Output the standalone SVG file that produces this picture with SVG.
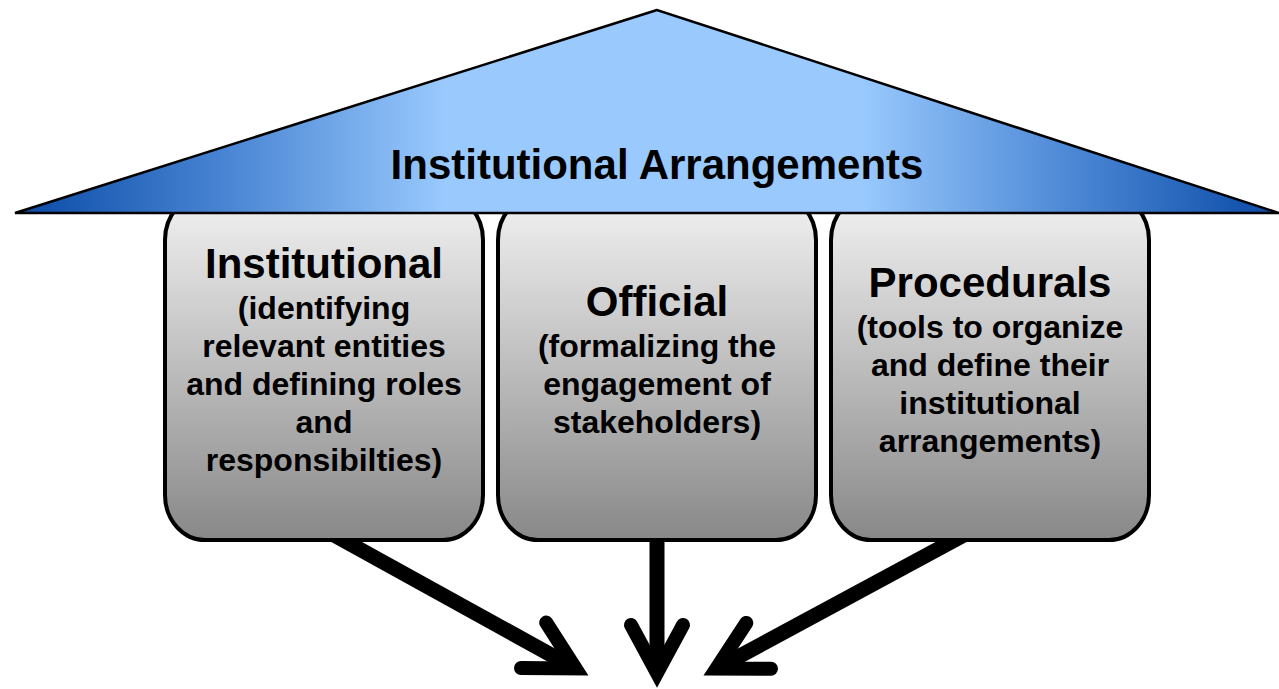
<svg xmlns="http://www.w3.org/2000/svg" width="1279" height="689" viewBox="0 0 1279 689">
<style>
.box{fill:url(#boxGrad);stroke:#000;stroke-width:4}
.t{font-family:"Liberation Sans",Arial,sans-serif;font-weight:bold;fill:#000;text-anchor:middle}
.h{font-size:42px}
.s{font-size:32px}
.arr{fill:none;stroke:#000;stroke-width:15;marker-end:url(#head)}
</style>
<defs>
<linearGradient id="roofGrad" gradientUnits="userSpaceOnUse" x1="15" y1="0" x2="1279" y2="0">
<stop offset="0" stop-color="#0a4aa6"/>
<stop offset="0.17" stop-color="#4a86d4"/>
<stop offset="0.34" stop-color="#99c9fd"/>
<stop offset="0.67" stop-color="#99c9fd"/>
<stop offset="0.84" stop-color="#4a86d4"/>
<stop offset="1" stop-color="#0a4aa6"/>
</linearGradient>
<linearGradient id="boxGrad" x1="0" y1="0" x2="0" y2="1">
<stop offset="0" stop-color="#f2f2f2"/>
<stop offset="1" stop-color="#888888"/>
</linearGradient>
<marker id="head" markerUnits="userSpaceOnUse" orient="auto" overflow="visible" refX="0" refY="0" markerWidth="1" markerHeight="1">
<path d="M-48,-26 L0,0 L-48,26" fill="none" stroke="#000" stroke-width="14" stroke-linecap="round" stroke-linejoin="miter" stroke-miterlimit="6"/>
</marker>
</defs>
<g id="connectors">
<line class="arr" x1="334" y1="535" x2="575.6" y2="668.5"/>
<line class="arr" x1="657" y1="535" x2="657" y2="673"/>
<line class="arr" x1="964" y1="535" x2="716.4" y2="668.6"/>
</g>
<g id="node-institutional">
<rect class="box" x="165" y="195" width="318" height="345" rx="40" ry="45"/>
<text class="t h" x="324" y="278">Institutional</text>
<text class="t s" x="324" y="319">(identifying</text>
<text class="t s" x="324" y="357">relevant entities</text>
<text class="t s" x="324" y="395">and defining roles</text>
<text class="t s" x="324" y="433">and</text>
<text class="t s" x="324" y="471">responsibilties)</text>
</g>
<g id="node-official">
<rect class="box" x="498" y="195" width="318" height="345" rx="40" ry="45"/>
<text class="t h" x="657" y="316">Official</text>
<text class="t s" x="657" y="357">(formalizing the</text>
<text class="t s" x="657" y="395">engagement of</text>
<text class="t s" x="657" y="433">stakeholders)</text>
</g>
<g id="node-procedurals">
<rect class="box" x="831" y="195" width="318" height="345" rx="40" ry="45"/>
<text class="t h" x="990" y="297">Procedurals</text>
<text class="t s" x="990" y="338">(tools to organize</text>
<text class="t s" x="990" y="376">and define their</text>
<text class="t s" x="990" y="414">institutional</text>
<text class="t s" x="990" y="452">arrangements)</text>
</g>
<g id="node-roof">
<polygon points="657,10 15,213 1279,213" fill="url(#roofGrad)" stroke="#000" stroke-width="2.5" stroke-linejoin="miter"/>
<text class="t h" x="657" y="179">Institutional Arrangements</text>
</g>
</svg>
